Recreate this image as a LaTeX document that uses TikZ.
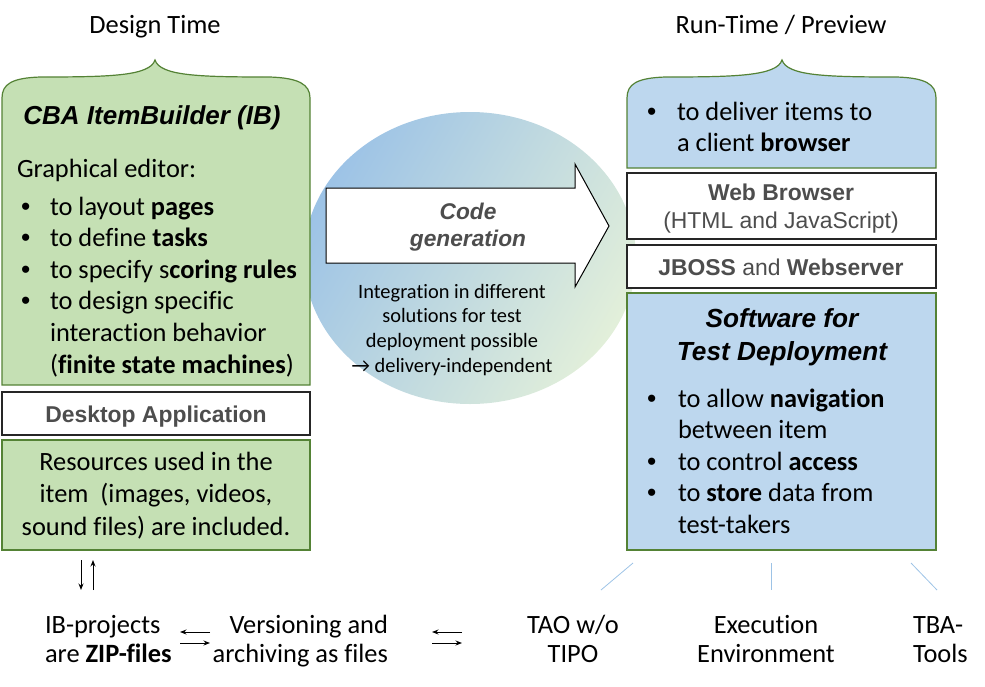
\documentclass[tikz,border=0pt]{standalone}
\usepackage{fontspec}
\setmainfont[Ligatures=NoCommon]{Carlito}
\newfontfamily\arial{Liberation Sans}
\usetikzlibrary{arrows.meta}
\definecolor{gfill}{HTML}{C5E0B4}
\definecolor{gline}{HTML}{548235}
\definecolor{bfill}{HTML}{BDD7EE}
\definecolor{elblue}{HTML}{9DC3E6}
\definecolor{elgreen}{HTML}{E2EFDA}
\definecolor{graytxt}{HTML}{4D4D4D}
\definecolor{thinblue}{HTML}{9DC3E6}
\newcommand{\bul}{{\arial •}}
\begin{document}
\begin{tikzpicture}[x=1pt,y=-1pt,
  txt/.style={inner sep=0pt,outer sep=0pt},
  gbox/.style={fill=gfill,draw=gline,line width=1.2pt},
  bbox/.style={fill=bfill,draw=gline,line width=1.2pt},
  wbox/.style={fill=white,draw=black!85,line width=1.5pt},
  smallarrow/.style={line width=1pt,-{Stealth[length=6.5pt,width=5pt]}},
  thinline/.style={draw=thinblue,line width=0.8pt},
  body/.style={txt,font=\fontsize{26.4}{31.6}\selectfont},
  boxlabel/.style={txt,text=graytxt,font=\arial\fontsize{22.9}{28}\selectfont},
  bottomtxt/.style={txt,font=\fontsize{26.4}{29}\selectfont}]
\useasboundingbox (0,0) rectangle (985,686);
% background ellipse
\shade[top color=elblue,bottom color=elgreen,shading angle=60] (470,258) ellipse [x radius=166,y radius=146];
% left column
\draw[gbox] (2,385) -- (2,98) .. controls (2,84) and (12,78) .. (40,77) .. controls (110,77) and (150,76) .. (155,60) .. controls (160,76) and (200,77) .. (270,77) .. controls (298,78) and (310,84) .. (310,98) -- (310,385) -- cycle;
\draw[wbox] (2,392) rectangle (310,435);
\draw[gbox] (2,440) rectangle (310,550);
% right column
\draw[bbox] (627,168) -- (627,98) .. controls (627,84) and (637,78) .. (665,77) .. controls (735,77) and (777,76) .. (782,60) .. controls (787,76) and (827,77) .. (897,77) .. controls (925,78) and (936,84) .. (936,98) -- (936,168) -- cycle;
\draw[wbox] (627,173) rectangle (936,239);
\draw[wbox] (627,245) rectangle (936,288);
\draw[bbox] (627,293) rectangle (936,550);
% block arrow
\draw[fill=white,draw=black,line width=1pt] (326,188) -- (575,188) -- (575,164) -- (609,226) -- (575,287) -- (575,263) -- (326,263) -- cycle;
% headers
\node[body,anchor=base] (hdesign) at (155,33) {Design Time};
\node[body,anchor=base] (hrun) at (781,33) {Run-Time / Preview};
% left texts
\node[txt,anchor=base,font=\arial\bfseries\itshape\fontsize{26}{30}\selectfont] (cba) at (152,124) {CBA ItemBuilder (IB)};
\node[body,anchor=base west] (graph) at (17,177) {Graphical editor:};
\node[body,anchor=base west] (leftlist) at (21,215) {\begin{tabular}[t]{@{}p{29pt}@{}l@{}}\bul&to layout \textbf{pages}\\ \bul&to define \textbf{tasks}\\ \bul&to specify s\textbf{coring rules}\\ \bul&to design specific\\ &interaction behavior\\ &(\textbf{finite state machines})\end{tabular}};
\node[boxlabel,anchor=base,font=\arial\bfseries\fontsize{22.9}{28}\selectfont] (desk) at (156,422) {Desktop Application};
\node[body,anchor=base,font=\fontsize{26.4}{32.5}\selectfont] (res) at (156,470) {\begin{tabular}[t]{@{}c@{}}Resources used in the\\ item\ \ (images, videos,\\ sound files) are included.\end{tabular}};
% right texts
\node[body,anchor=base west] (rtop) at (647,120) {\begin{tabular}[t]{@{}p{30pt}@{}l@{}}\bul&to deliver items to\\ &a client \textbf{browser}\end{tabular}};
\node[boxlabel,anchor=base] (web) at (781,200) {\textbf{Web Browser}};
\node[boxlabel,anchor=base] (html) at (781,228) {(HTML and JavaScript)};
\node[boxlabel,anchor=base] (jboss) at (781,275) {\textbf{JBOSS} and \textbf{Webserver}};
\node[txt,anchor=base,font=\arial\bfseries\itshape\fontsize{26.2}{33}\selectfont] (soft) at (782,327) {\begin{tabular}[t]{@{}c@{}}Software for\\ Test Deployment\end{tabular}};
\node[body,anchor=base west] (rlist) at (647,407) {\begin{tabular}[t]{@{}p{31pt}@{}l@{}}\bul&to allow \textbf{navigation}\\ &between item\\ \bul&to control \textbf{access}\\ \bul&to \textbf{store} data from\\ &test-takers\end{tabular}};
% center texts
\node[boxlabel,anchor=base,font=\arial\bfseries\itshape\fontsize{22.7}{27}\selectfont] (code) at (468,219) {\begin{tabular}[t]{@{}c@{}}Code\\ generation\end{tabular}};
\node[txt,anchor=base,font=\fontsize{20.4}{24.8}\selectfont] (integ) at (452,298) {\begin{tabular}[t]{@{}c@{}}Integration in different\\ solutions for test\\ deployment possible\\ → delivery-independent\end{tabular}};
% bottom texts
\node[bottomtxt,anchor=base west] (ib) at (45,633) {\begin{tabular}[t]{@{}l@{}}IB-projects\\ are \textbf{ZIP-files}\end{tabular}};
\node[bottomtxt,anchor=base east] (vers) at (388,633) {\begin{tabular}[t]{@{}r@{}}Versioning and\\ archiving as files\end{tabular}};
\node[bottomtxt,anchor=base] (tao) at (573,633) {\begin{tabular}[t]{@{}c@{}}TAO w/o\\ TIPO\end{tabular}};
\node[bottomtxt,anchor=base] (exec) at (766,633) {\begin{tabular}[t]{@{}c@{}}Execution\\ Environment\end{tabular}};
\node[bottomtxt,anchor=base west] (tba) at (913,633) {\begin{tabular}[t]{@{}l@{}}TBA-\\ Tools\end{tabular}};
% small arrows
\coordinate (d1) at (81,560); \coordinate (d2) at (81,590);
\coordinate (u1) at (93,590); \coordinate (u2) at (93,560);
\draw[smallarrow] (d1) -- (d2);
\draw[smallarrow] (u1) -- (u2);
\coordinate (a1) at (210,632); \coordinate (a2) at (180,632);
\coordinate (b1) at (180,643); \coordinate (b2) at (210,643);
\draw[smallarrow] (a1) -- (a2);
\draw[smallarrow] (b1) -- (b2);
\coordinate (c1) at (462,632); \coordinate (c2) at (432,632);
\coordinate (e1) at (432,643); \coordinate (e2) at (462,643);
\draw[smallarrow] (c1) -- (c2);
\draw[smallarrow] (e1) -- (e2);
% thin lines
\coordinate (t1) at (633,563); \coordinate (t2) at (601,590);
\coordinate (x1) at (771,563); \coordinate (x2) at (771,590);
\coordinate (y1) at (911,563); \coordinate (y2) at (937,590);
\draw[thinline] (t1) -- (t2);
\draw[thinline] (x1) -- (x2);
\draw[thinline] (y1) -- (y2);
\end{tikzpicture}
\end{document}
